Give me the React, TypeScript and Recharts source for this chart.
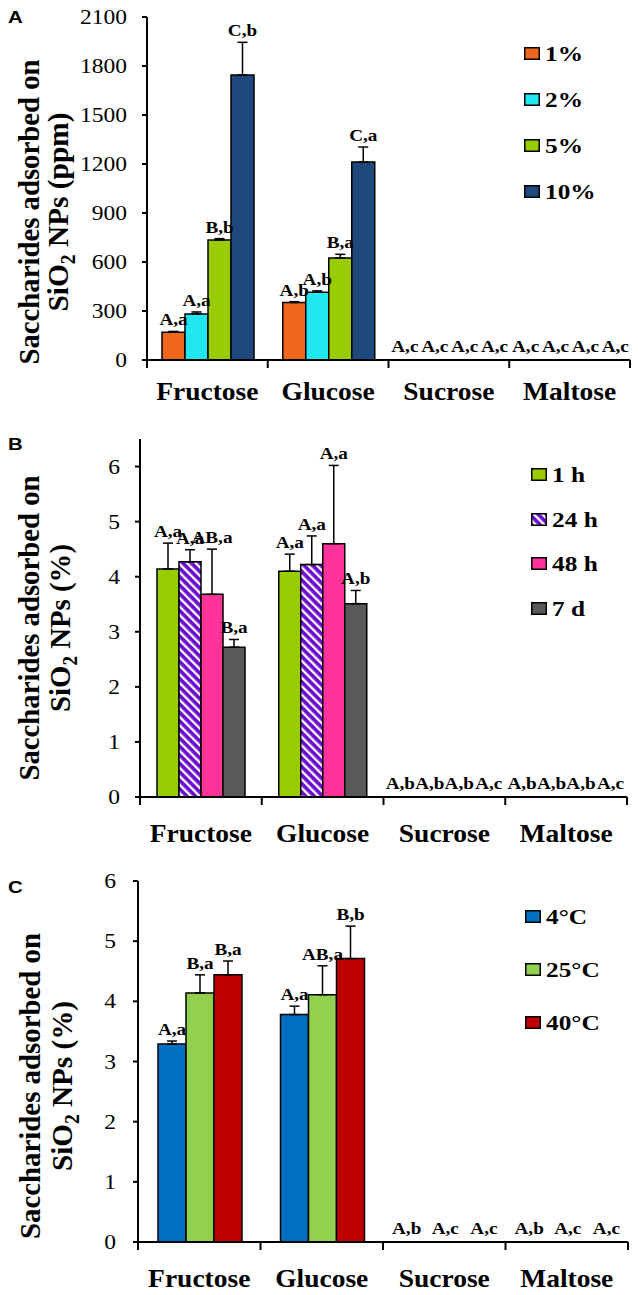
import React from 'react';
import { BarChart, Bar, XAxis, YAxis, ErrorBar, LabelList, Legend, Rectangle } from 'recharts';

const serif = "'Liberation Serif', Tinos, 'Times New Roman', Times, serif";
const sans = "'Liberation Sans', Arimo, Arial, sans-serif";
const SX = 1.2; // the source figure is stretched sideways

const sugars = ['Fructose', 'Glucose', 'Sucrose', 'Maltose'];

// A - saccharide concentration (ppm)
const concNames = ['1%', '2%', '5%', '10%'];
const conc1 = [170, 352, 0, 0];
const conc1Err = [5, 5, 0, 0];
const conc2 = [282, 415, 0, 0];
const conc2Err = [12, 8, 0, 0];
const conc5 = [735, 625, 0, 0];
const conc5Err = [8, 22, 0, 0];
const conc10 = [1745, 1212, 0, 0];
const conc10Err = [200, 92, 0, 0];
const conc1Lab = ['A,a', 'A,b', 'A,c', 'A,c'];
const conc2Lab = ['A,a', 'A,b', 'A,c', 'A,c'];
const conc5Lab = ['B,b', 'B,a', 'A,c', 'A,c'];
const conc10Lab = ['C,b', 'C,a', 'A,c', 'A,c'];
const ticksA = [0, 300, 600, 900, 1200, 1500, 1800, 2100];

// B - contact time (%)
const timeNames = ['1 h', '24 h', '48 h', '7 d'];
const t1h = [4.14, 4.1, 0, 0];
const t1hErr = [0.47, 0.31, 0, 0];
const t24h = [4.27, 4.22, 0, 0];
const t24hErr = [0.22, 0.52, 0, 0];
const t48h = [3.68, 4.6, 0, 0];
const t48hErr = [0.82, 1.42, 0, 0];
const t7d = [2.72, 3.51, 0, 0];
const t7dErr = [0.14, 0.24, 0, 0];
const t1hLab = ['A,a', 'A,a', 'A,b', 'A,b'];
const t24hLab = ['A,a', 'A,a', 'A,b', 'A,b'];
const t48hLab = ['AB,a', 'A,a', 'A,b', 'A,b'];
const t7dLab = ['B,a', 'A,b', 'A,c', 'A,c'];
const ticksB = [0, 1, 2, 3, 4, 5, 6];

// C - temperature (%)
const tempNames = ['4°C', '25°C', '40°C'];
const c4 = [3.29, 3.78, 0, 0];
const c4Err = [0.05, 0.14, 0, 0];
const c25 = [4.14, 4.11, 0, 0];
const c25Err = [0.3, 0.48, 0, 0];
const c40 = [4.44, 4.71, 0, 0];
const c40Err = [0.23, 0.54, 0, 0];
const c4Lab = ['A,a', 'A,a', 'A,b', 'A,b'];
const c25Lab = ['B,a', 'AB,a', 'A,c', 'A,c'];
const c40Lab = ['B,a', 'B,b', 'A,c', 'A,c'];
const ticksC = [0, 1, 2, 3, 4, 5, 6];

type Series = { name: string; values: number[]; errs: number[]; labels: string[]; fill: string };

const seriesA: Series[] = [
  { name: concNames[0], values: conc1, errs: conc1Err, labels: conc1Lab, fill: '#F0661E' },
  { name: concNames[1], values: conc2, errs: conc2Err, labels: conc2Lab, fill: '#22E6F0' },
  { name: concNames[2], values: conc5, errs: conc5Err, labels: conc5Lab, fill: '#99CC00' },
  { name: concNames[3], values: conc10, errs: conc10Err, labels: conc10Lab, fill: '#1F497D' },
];
const seriesB: Series[] = [
  { name: timeNames[0], values: t1h, errs: t1hErr, labels: t1hLab, fill: '#99CC00' },
  { name: timeNames[1], values: t24h, errs: t24hErr, labels: t24hLab, fill: 'url(#stripes24)' },
  { name: timeNames[2], values: t48h, errs: t48hErr, labels: t48hLab, fill: '#FF3399' },
  { name: timeNames[3], values: t7d, errs: t7dErr, labels: t7dLab, fill: '#595959' },
];
const seriesC: Series[] = [
  { name: tempNames[0], values: c4, errs: c4Err, labels: c4Lab, fill: '#0070C0' },
  { name: tempNames[1], values: c25, errs: c25Err, labels: c25Lab, fill: '#92D050' },
  { name: tempNames[2], values: c40, errs: c40Err, labels: c40Lab, fill: '#C00000' },
];

function SText({ x, y, anchor = 'start', size, bold, family = serif, sx = SX, children }: any) {
  return (
    <text
      transform={`translate(${x},${y}) scale(${sx},1)`}
      textAnchor={anchor}
      fontSize={size}
      fontWeight={bold ? 'bold' : 'normal'}
      fontFamily={family}
      fill="#000"
    >
      {children}
    </text>
  );
}

// letters over each bar; letters of empty bars sit on the axis, spread a little wider
const barLabel = (s: Series, plotLeft: number, catW: number, spread: number) => (props: any) => {
  const vb = props.viewBox ?? props;
  const i = props.index ?? 0;
  const x = vb.x ?? props.x;
  const y = vb.y ?? props.y;
  const w = vb.width ?? props.width;
  const h = vb.height ?? props.height;
  const v = s.values[i];
  const cx = x + w / 2;
  if (v > 0) {
    const ppu = Math.abs(h) / v;
    const top = Math.min(y, y + h) - s.errs[i] * ppu;
    return (
      <SText x={cx} y={top - 6} anchor="middle" size={16} bold>
        {s.labels[i]}
      </SText>
    );
  }
  const mid = plotLeft + catW * (i + 0.5);
  return (
    <SText x={mid + (cx - mid) * spread} y={Math.max(y, y + h) - 8} anchor="middle" size={16} bold>
      {s.labels[i]}
    </SText>
  );
};

// zero bars keep a 1px slot so their letters still get drawn, but show no rectangle
const BarShape = (props: any) => {
  const raw = props.payload ? props.payload[props.dataKey] : props.value;
  if (!raw) return <g />;
  return <Rectangle {...props} />;
};

function LegendBox({ series, spacing }: { series: Series[]; spacing: number }) {
  return (
    <div style={{ position: 'relative' }}>
      {series.map((s, i) => (
        <div
          key={s.name}
          style={{ position: 'absolute', left: 0, top: i * spacing, height: 13, display: 'flex', alignItems: 'center', whiteSpace: 'nowrap' }}
        >
          <svg width={16} height={13} style={{ display: 'block' }}>
            <rect x={0.75} y={0.75} width={14.5} height={11.5} fill={s.fill} stroke="#000" strokeWidth={1.5} />
          </svg>
          <span
            style={{
              marginLeft: 5,
              fontFamily: serif,
              fontWeight: 'bold',
              fontSize: 22,
              lineHeight: '13px',
              display: 'inline-block',
              transform: 'scaleX(1.15)',
              transformOrigin: 'left center',
            }}
          >
            {s.name}
          </span>
        </div>
      ))}
    </div>
  );
}

type PanelCfg = {
  letter: string;
  letterY: number;
  unit: string;
  top: number;
  height: number;
  plotBottom: number;
  margin: { top: number; right: number; left: number; bottom: number };
  yAxisWidth: number;
  tickMargin: number;
  domain: [number, number];
  ticks: number[];
  catGap: number;
  spread: number;
  legend: { left: number; top: number; spacing: number };
  yLab: { l1x: number; l2x: number; cy: number; len1: number; len2: number };
  catOffset: number;
  series: Series[];
};

function Panel({ cfg }: { cfg: PanelCfg }) {
  const W = 638;
  const data = sugars.map((name, i) => {
    const row: any = { name };
    cfg.series.forEach((s, k) => {
      row['s' + k] = s.values[i];
      row['e' + k] = s.errs[i] > 0 ? [0, s.errs[i]] : null;
    });
    return row;
  });
  const plotLeft = cfg.margin.left + cfg.yAxisWidth;
  const plotBottom = cfg.plotBottom;
  const xAxisHeight = cfg.height - cfg.margin.bottom - plotBottom;
  const catW = (W - plotLeft - cfg.margin.right) / sugars.length;

  const CatTick = (props: any) => (
    <SText x={props.x} y={plotBottom + cfg.catOffset} anchor="middle" size={25} sx={1.1} bold>
      {props.payload.value}
    </SText>
  );

  const YTick = (props: any) => (
    <SText x={props.x} y={props.y + 7} anchor="end" size={21} sx={1.12}>
      {props.payload.value}
    </SText>
  );

  // axis title, panel letter and the short marks between the sugar groups
  const YLab = () => (
    <g>
      <text
        transform={`translate(${cfg.yLab.l1x},${cfg.yLab.cy}) rotate(-90)`}
        textAnchor="middle"
        fontSize={30}
        fontWeight="bold"
        fontFamily={serif}
        fill="#000"
        textLength={cfg.yLab.len1}
        lengthAdjust="spacingAndGlyphs"
      >
        Saccharides adsorbed on
      </text>
      <text
        transform={`translate(${cfg.yLab.l2x},${cfg.yLab.cy}) rotate(-90)`}
        textAnchor="middle"
        fontSize={30}
        fontWeight="bold"
        fontFamily={serif}
        fill="#000"
        textLength={cfg.yLab.len2}
        lengthAdjust="spacingAndGlyphs"
      >
        SiO
        <tspan fontSize={20} dy={7}>
          2
        </tspan>
        <tspan dy={-7}>{` NPs (${cfg.unit})`}</tspan>
      </text>
      <SText x={8} y={cfg.letterY} size={17} bold family={sans}>
        {cfg.letter}
      </SText>
      {sugars.concat(['']).map((_, i) => (
        <line
          key={i}
          x1={plotLeft + catW * i}
          x2={plotLeft + catW * i}
          y1={plotBottom}
          y2={plotBottom + 8}
          stroke="#000"
          strokeWidth={2}
        />
      ))}
    </g>
  );

  return (
    <div style={{ position: 'absolute', left: 0, top: cfg.top, width: W, height: cfg.height }}>
      <BarChart width={W} height={cfg.height} data={data} margin={cfg.margin} barCategoryGap={cfg.catGap} barGap={0}>
        <defs>
          <pattern id="stripes24" patternUnits="userSpaceOnUse" width={6} height={6} patternTransform="rotate(-45)">
            <rect width={6} height={6} fill="#6A0DCC" />
            <rect width={2.3} height={6} fill="#FFFFFF" />
          </pattern>
        </defs>
        <XAxis
          dataKey="name"
          height={xAxisHeight}
          tickLine={false}
          axisLine={{ stroke: '#000', strokeWidth: 2 }}
          tick={CatTick}
          interval={0}
        />
        <XAxis xAxisId="top" orientation="top" dataKey="name" height={0} tick={false} tickLine={false} axisLine={{ stroke: '#222', strokeWidth: 1.5 }} />
        <YAxis
          width={cfg.yAxisWidth}
          domain={cfg.domain}
          ticks={cfg.ticks}
          interval={0}
          allowDataOverflow
          tickSize={5}
          tickMargin={cfg.tickMargin}
          tickLine={{ stroke: '#000', strokeWidth: 2 }}
          axisLine={{ stroke: '#000', strokeWidth: 2 }}
          tick={YTick}
          label={<YLab />}
        />
        <YAxis yAxisId="right" orientation="right" width={0} tick={false} tickLine={false} axisLine={{ stroke: '#222', strokeWidth: 1.5 }} />
        <Legend
          layout="vertical"
          align="center"
          verticalAlign="middle"
          wrapperStyle={{ left: cfg.legend.left, top: cfg.legend.top, width: 110, height: 200 }}
          content={() => <LegendBox series={cfg.series} spacing={cfg.legend.spacing} />}
        />
        {cfg.series.map((s, k) => (
          <Bar
            key={s.name}
            name={s.name}
            dataKey={'s' + k}
            fill={s.fill}
            stroke="#000"
            strokeWidth={1.5}
            minPointSize={1}
            shape={BarShape}
            isAnimationActive={false}
          >
            <ErrorBar dataKey={'e' + k} width={5} stroke="#000" strokeWidth={1.5} direction="y" />
            <LabelList dataKey={'s' + k} content={barLabel(s, plotLeft, catW, cfg.spread)} />
          </Bar>
        ))}
      </BarChart>
    </div>
  );
}

const panelA: PanelCfg = {
  letter: 'A',
  letterY: 23,
  unit: 'ppm',
  top: 0,
  height: 412,
  plotBottom: 360,
  margin: { top: 17, right: 8, left: 0, bottom: 0 },
  yAxisWidth: 147,
  tickMargin: 15,
  domain: [0, 2100],
  ticks: ticksA,
  catGap: 15,
  spread: 1.3,
  legend: { left: 524, top: 47, spacing: 46 },
  yLab: { l1x: 39, l2x: 68, cy: 212, len1: 305, len2: 199 },
  catOffset: 40,
  series: seriesA,
};

const panelB: PanelCfg = {
  letter: 'B',
  letterY: 30,
  unit: '%',
  top: 420,
  height: 432,
  plotBottom: 377,
  margin: { top: 19, right: 11, left: 0, bottom: 0 },
  yAxisWidth: 140,
  tickMargin: 15,
  domain: [0, 6.5],
  ticks: ticksB,
  catGap: 17,
  spread: 1.34,
  legend: { left: 531, top: 48, spacing: 44.5 },
  yLab: { l1x: 39, l2x: 70, cy: 208, len1: 305, len2: 168 },
  catOffset: 45,
  series: seriesB,
};

const panelC: PanelCfg = {
  letter: 'C',
  letterY: 33,
  unit: '%',
  top: 860,
  height: 435,
  plotBottom: 382,
  margin: { top: 21, right: 10, left: 0, bottom: 0 },
  yAxisWidth: 138,
  tickMargin: 17,
  domain: [0, 6],
  ticks: ticksC,
  catGap: 20,
  spread: 1.38,
  legend: { left: 525, top: 50, spacing: 53 },
  yLab: { l1x: 40, l2x: 72, cy: 226, len1: 306, len2: 170 },
  catOffset: 45,
  series: seriesC,
};

export default function App() {
  return (
    <div style={{ position: 'absolute', left: 0, top: 0, width: 638, height: 1295, background: '#fff' }}>
      <Panel cfg={panelA} />
      <Panel cfg={panelB} />
      <Panel cfg={panelC} />
    </div>
  );
}
